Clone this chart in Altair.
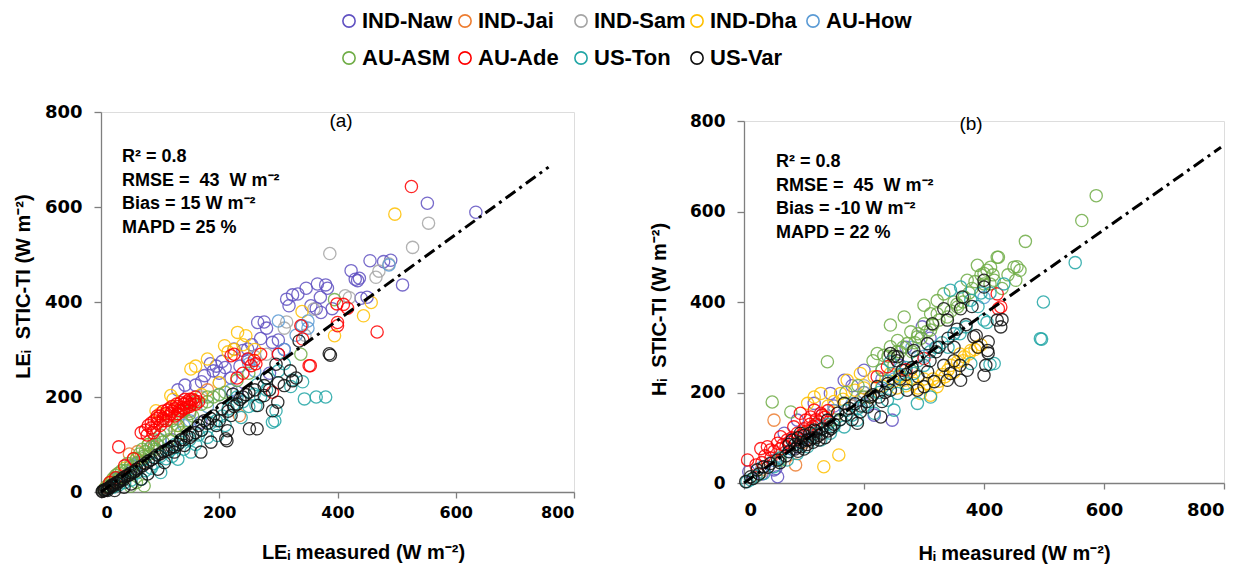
import altair as alt
import pandas as pd

SITES = ["IND-Naw", "IND-Jai", "IND-Sam", "IND-Dha", "AU-How", "AU-ASM", "AU-Ade", "US-Ton", "US-Var"]
COLORS = ["#6152C2", "#ED7D31", "#A5A5A5", "#FFC000", "#5B9BD5", "#70AD47", "#FF0000", "#22A6A6", "#111111"]

# ---------------- Panel (a): LE measured vs LE STIC-TI ----------------
LE_IND_Naw = [(634,589),(552,608),(455,487),(478,485),(490,488),(510,436),(423,466),(430,448),(437,450),(450,410),
              (440,408),(347,429),(383,429),(371,410),(364,386),(391,386),(314,406),(324,415),(318,392),(333,417),
              (366,438),(380,436),(434,445),(355,392),(372,378),(276,358),(265,357),(280,345),(270,323),(290,315),
              (248,301),(225,301),(255,310),(240,298),(300,320),(195,265),(190,255),(200,250),(210,262),(175,245),
              (170,232),(160,225),(220,240),(235,265),(250,280),(142,225),(130,215),(185,270),(205,275),(169,147),
              (230,210),(300,290),(310,300),(285,250),(120,110),(90,95),(60,55),(30,30)]
LE_IND_Jai = [(8,10),(18,22),(28,38),(48,80),(55,70),(70,62),(90,95),(110,130),(130,155),(150,170),(180,215),
              (234,161),(35,25),(22,30),(62,85)]
LE_IND_Sam = [(554,566),(527,515),(387,502),(465,452),(470,465),(413,413),(420,409),(314,358),(310,345),(340,350),
              (345,330),(280,290),(260,285),(200,230),(170,200),(150,170),(120,140),(80,90),(50,60),(25,30),
              (487,480),(360,385)]
LE_IND_Dha = [(497,585),(457,399),(444,371),(395,329),(245,329),(231,336),(240,310),(209,308),(225,300),(215,295),
              (180,280),(152,259),(160,265),(118,203),(122,195),(93,171),(100,165),(60,70),(40,50),(20,25),
              (130,140),(80,100),(200,230),(170,205),(260,300),(340,380)]
LE_AU_How = [(300,360),(330,330),(350,345),(250,270),(200,205),(150,150),(100,110),(60,60),(30,30),(487,478),
             (340,350),(310,300),(260,255),(220,215),(180,180),(140,140),(95,100),(55,55),(25,28),(350,360)]
LE_AU_ASM = [(5,5),(10,12),(15,20),(20,28),(25,35),(30,40),(35,45),(40,30),(45,60),(50,55),(60,70),(65,80),
             (70,90),(75,85),(80,100),(85,95),(90,110),(100,120),(110,130),(120,150),(140,170),(160,190),(180,200),
             (73,13),(60,20),(50,12),(395,405),(338,290),(250,250),(210,210),(130,140),(150,165),(170,185),
             (190,200),(25,15),(35,25),(55,40),(70,70),(95,100),
             (15,12),(22,20),(32,30),(42,45),(52,48),(62,62),(72,75),(82,80),(92,90),(105,105),(115,110),
             (125,130),(135,125),(145,150),(155,160),(200,205),(230,235),(180,190)]
LE_AU_Ade = [(525,643),(467,337),(400,350),(399,396),(354,266),(352,266),(417,387),(410,395),(400,357),(341,322),
             (338,350),(300,290),(254,266),(259,277),(248,280),(262,270),(220,287),(225,290),(290,210),(230,240),
             (240,250),(270,290),(30,95),(15,20),(25,30),(40,55),(55,70),
             (68,125),(75,130),(80,140),(85,135),(90,150),(95,145),(100,160),(105,155),(110,165),(115,160),
             (120,170),(125,175),(130,180),(135,170),(140,185),(145,190),(150,180),(155,195),(160,185),(165,190),
             (110,150),(120,180),(100,140),(130,165),(140,175),(90,130),(115,175),(150,195),(105,170),(125,160),
             (145,178),(135,188),(160,200),(95,155),
             (85,145),(95,160),(105,150),(112,172),(118,165),(128,185),(138,178),(148,188),(158,192),(78,120),
             (88,125),(132,172),(142,195),(152,185)]
LE_US_Ton = [(380,200),(364,200),(344,196),(324,236),(321,222),(341,232),(300,255),(294,150),(290,147),(296,171),
             (262,182),(259,206),(264,226),(237,157),(250,180),(197,119),(210,140),(180,115),(152,84),(160,100),
             (130,69),(140,90),(120,75),(101,41),(90,60),(68,27),(75,45),(60,40),(51,25),(40,20),(30,15),(20,10),
             (10,5),(310,270),(280,240),(230,200),(170,130),(110,70),(85,50),
             (100,75),(115,85),(125,100),(135,105),(150,110),(165,120),(185,145),(195,150),(205,160),(215,175),
             (225,185),(240,190),(270,200),(280,215)]
LE_US_Var = [(388,288),(386,291),(324,234),(296,269),(310,224),(276,224),(276,203),(265,182),(251,133),(211,112),
             (214,129),(220,161),(223,206),(299,189),(290,171),(186,105),(169,84),(141,98),(124,84),(107,62),
             (96,48),(79,38),(68,27),(51,17),(39,10),(23,3),(11,3),(2,1),(5,3),(8,5),(12,8),(15,10),(18,14),
             (22,16),(26,20),(30,22),(35,28),(40,32),(45,35),(50,40),(55,42),(60,48),(65,52),(70,55),(80,65),
             (90,72),(100,80),(110,88),(120,95),(130,100),(150,115),(160,125),(170,130),(180,145),(200,150),
             (190,160),(205,175),(230,185),(240,200),(250,210),(260,215),(280,240),(335,318),(264,133),(213,108),
             (330,240),(3,2),(6,4),(10,6),(14,9),(20,12),(28,18),(33,24),(38,26),(48,36),(58,44),(75,60),(85,68),
             (95,78),(115,90),(140,110),
             (105,85),(125,95),(135,110),(145,118),(155,120),(165,140),(175,150),(185,155),(195,140),(215,170),
             (225,180),(235,195),(245,205),(300,230),(320,255),(285,215)]

# ---------------- Panel (b): H measured vs H STIC-TI ----------------
H_IND_Naw = [(56,14),(50,29),(53,32),(8,25),(297,345),(200,249),(167,227),(144,198),(117,176),(89,139),(67,110),
             (247,139),(217,150),(260,260),(230,230),(180,215),(150,170),(120,130),(100,95),(80,75),(30,20),
             (310,320),(270,300),(195,185),(130,150)]
H_IND_Jai = [(50,139),(86,40),(60,55),(120,110),(150,160),(200,200),(30,30),(100,90),(20,15),(180,170)]
H_IND_Sam = [(180,170),(250,240),(320,300),(120,110),(60,60),(200,215),(90,85),(30,25)]
H_IND_Dha = [(389,301),(378,293),(367,279),(356,268),(345,260),(322,213),(311,194),(294,198),(283,220),(267,227),
             (244,242),(278,249),(158,62),(133,36),(128,198),(161,198),(172,227),(194,242),(217,235),(106,176),
             (117,190),(300,230),(330,240),(255,210),(230,215),(150,180),(185,205),(210,190),(340,250),(360,285),
             (250,225),(260,235),(270,215),(280,230),(290,210),(305,220),(315,230),(325,225),(335,235),(350,245),
             (365,270),(375,285),(385,295),(395,305),(140,170),(165,185),(200,210)]
H_AU_How = [(150,160),(200,200),(250,230),(300,280),(350,330),(100,100),(50,50),(30,35),(400,410),(280,300),
            (230,250),(180,175),(120,125),(75,70)]
H_AU_ASM = [(587,635),(563,580),(469,534),(424,499),(455,478),(422,499),(389,481),(411,477),(450,477),(453,448),
            (372,448),(400,463),(417,448),(333,418),(300,393),(322,374),(311,338),(267,367),(244,349),(278,334),
            (289,323),(222,286),(233,282),(139,268),(244,301),(256,315),(272,308),(300,352),(322,403),(367,411),
            (356,389),(339,367),(311,374),(47,179),(78,157),(100,110),(150,140),(200,190),(250,260),(280,290),
            (230,250),(350,400),(380,430),(430,430),(400,440),(260,290),(290,330),(215,270),(190,215),(170,200),
            (120,130),(60,50),(25,20),
            (240,280),(255,290),(265,300),(285,310),(295,320),(305,335),(315,350),(325,360),(345,380),(355,395),
            (365,400),(375,420),(385,445),(395,460),(405,470),(415,460),(440,460),(460,470),(410,440)]
H_AU_Ade = [(6,51),(28,76),(39,80),(56,88),(72,95),(89,110),(103,139),(117,161),(111,146),(128,154),(61,102),
            (83,124),(94,154),(44,73),(428,389),(422,418),(424,385),(239,257),(222,235),(300,275),(270,250),
            (100,120),(110,130),(120,140),(130,150),(80,100),(65,85),(50,70),(140,160),(20,40),(35,60),
            (70,80),(75,90),(85,95),(95,105),(105,115),(115,125),(125,135),(135,145),(60,75),(45,55),(30,45)]
H_US_Ton = [(552,487),(499,400),(496,318),(494,319),(400,360),(405,355),(417,264),(378,264),(289,176),(311,190),
            (256,198),(239,183),(250,161),(217,154),(189,139),(167,124),(144,110),(128,95),(106,80),(89,65),
            (72,51),(50,36),(33,21),(11,7),(378,404),(433,440),(361,433),(344,426),(244,268),(283,242),(410,262),
            (320,300),(300,260),(350,330),(200,170),(270,220),(225,200),(160,140),(120,110),(90,85),(60,55),
            (20,15),(5,3),
            (130,120),(140,130),(150,125),(170,160),(180,150),(190,165),(210,180),(230,210),(240,225),(260,240),
            (270,255),(290,270),(310,290),(330,310),(340,300),(360,330),(370,345),(390,390),(395,420),(410,420)]
H_US_Var = [(400,448),(400,433),(364,411),(361,385),(333,385),(339,360),(314,352),(306,308),(283,293),(289,279),
            (256,279),(244,286),(264,249),(306,246),(333,260),(344,242),(372,249),(361,227),(339,227),(317,224),
            (300,213),(289,205),(272,205),(403,260),(383,323),(422,360),(428,345),(406,293),(400,238),(244,205),
            (222,213),(228,146),(206,168),(189,132),(194,157),(211,190),(167,176),(156,154),(144,124),(139,139),
            (117,117),(106,95),(89,80),(94,110),(75,69),(56,51),(44,43),(33,36),(22,29),(11,14),(3,3),(80,95),
            (85,85),(90,100),(95,90),(100,105),(105,95),(110,110),(115,100),(120,115),(125,105),(130,120),
            (100,75),(90,70),(430,361),(387,326),(407,312),(407,287),(250,280),(255,270),(350,300),(320,290),
            (230,180),(180,140),(150,130),(70,60),(60,45),(40,35),(25,20),(15,10),
            (75,85),(85,75),(95,80),(105,85),(110,95),(115,90),(120,100),(125,95),(130,110),(135,100),(140,115),
            (145,120),(160,140),(170,150),(175,165),(185,175),(195,170),(205,180),(215,195),(225,190),(235,200),
            (240,220),(260,230),(270,240),(280,255),(290,235),(310,270),(325,300),(340,320),(355,340),(370,350),
            (380,390),(350,270),(360,260),(390,300)]

# dash-dot reference lines (endpoints)
LINE_A_X = [0, 757]
LINE_A_Y = [0, 684]
LINE_B_X = [0, 795]
LINE_B_Y = [0, 742]

NB = "\u00a0"
STATS_A = ["R\u00b2 = 0.8", "RMSE =" + NB * 2 + "43" + NB * 2 + "W m\u207b\u00b2", "Bias = 15 W m\u207b\u00b2", "MAPD = 25 %"]
STATS_B = ["R\u00b2 = 0.8", "RMSE =" + NB * 2 + "45" + NB * 2 + "W m\u207b\u00b2", "Bias = -10 W m\u207b\u00b2", "MAPD = 22 %"]

TICKS = [0, 200, 400, 600, 800]

LE_SETS = [LE_IND_Naw, LE_IND_Jai, LE_IND_Sam, LE_IND_Dha, LE_AU_How, LE_AU_ASM, LE_AU_Ade, LE_US_Ton, LE_US_Var]
H_SETS = [H_IND_Naw, H_IND_Jai, H_IND_Sam, H_IND_Dha, H_AU_How, H_AU_ASM, H_AU_Ade, H_US_Ton, H_US_Var]


def to_frame(sets):
    rows = []
    for site, pts in zip(SITES, sets):
        for x, y in pts:
            rows.append({"site": site, "x": x, "y": y})
    return pd.DataFrame(rows)


df_a = to_frame(LE_SETS)
df_b = to_frame(H_SETS)

FONT = "Liberation Sans"
TICKFONT = "DejaVu Sans"
AXC = "#7F7F7F"

legend = alt.Legend(
    title=None, orient="none", legendX=237, legendY=-102, columns=5, direction="horizontal",
    symbolType="circle", symbolSize=150, symbolStrokeWidth=1.6, symbolOpacity=1,
    labelFont=FONT, labelFontWeight="bold", labelFontSize=22, labelColor="black",
    rowPadding=15, columnPadding=0, gridAlign="all", labelOffset=2,
)


def color_enc(show_legend):
    return alt.Color("site:N", scale=alt.Scale(domain=SITES, range=COLORS),
                     legend=legend if show_legend else None, sort=SITES)


def panel(df, lx, ly, xtitle, ytitle, stats, tag, w, h, cfg, show_legend):
    xax = alt.Axis(values=TICKS, title=xtitle, grid=False, domainColor=AXC, tickColor=AXC,
                   domainWidth=1.3, tickWidth=1.3, tickSize=6, labelPadding=cfg["xlabpad"],
                   labelFont=TICKFONT, labelFontWeight="bold", labelFontSize=cfg["xlab"], labelColor="black",
                   titleFont=FONT, titleFontWeight="bold", titleFontSize=20, titleColor="black",
                   titleX=cfg["xtx"], titleY=cfg["xty"], titleAlign="center", titleBaseline="middle")
    yax = alt.Axis(values=TICKS, title=ytitle, grid=False, domainColor=AXC, tickColor=AXC,
                   domainWidth=1.3, tickWidth=1.3, tickSize=7, labelPadding=12,
                   labelFont=TICKFONT, labelFontWeight="bold", labelFontSize=cfg["ylab"], labelColor="black",
                   titleFont=FONT, titleFontWeight="bold", titleFontSize=20, titleColor="black",
                   titleX=cfg["ytx"], titleY=cfg["yty"], titleAlign="center", titleBaseline="middle",
                   titleAngle=270)
    xs = alt.Scale(domain=[0, 800], nice=False)
    ys = alt.Scale(domain=[0, 800], nice=False)
    pts = alt.Chart(df).mark_point(filled=False, size=150, strokeWidth=1.3, opacity=0.85).encode(
        x=alt.X("x:Q", scale=xs, axis=xax),
        y=alt.Y("y:Q", scale=ys, axis=yax),
        color=color_enc(show_legend),
    )
    line = alt.Chart(pd.DataFrame({"x": lx, "y": ly})).mark_line(
        color="black", strokeWidth=3, strokeDash=[12, 5, 3, 5]).encode(
        x=alt.X("x:Q", scale=xs), y=alt.Y("y:Q", scale=ys))
    txt = alt.Chart(pd.DataFrame({"t": ["\n".join(stats)]})).mark_text(
        align="left", baseline="top", font=FONT, fontWeight="bold", fontSize=18, color="black",
        lineBreak="\n", lineHeight=23.5).encode(
        text="t:N", x=alt.value(cfg["sx"]), y=alt.value(cfg["sy"]))
    lab = alt.Chart(pd.DataFrame({"t": [tag]})).mark_text(
        align="center", baseline="middle", font=FONT, fontSize=19, color="black").encode(
        text="t:N", x=alt.value(cfg["tx"]), y=alt.value(cfg["ty"]))
    return alt.layer(pts, line, txt, lab).properties(width=w, height=h)


cfg_a = dict(xlab=16, ylab=18, xlabpad=6, xtx=262, xty=60, ytx=-78, yty=174, sx=21, sy=36, tx=240, ty=9)
cfg_b = dict(xlab=18, ylab=17, xlabpad=12, xtx=270, xty=70, ytx=-85, yty=188, sx=32, sy=32, tx=227, ty=3)

pa = panel(df_a, LINE_A_X, LINE_A_Y, "LE\u1d62 measured (W m\u207b\u00b2)",
           "LE\u1d62" + NB * 2 + "STIC-TI (W m\u207b\u00b2)", STATS_A, "(a)", 473, 380, cfg_a, True)
pb = panel(df_b, LINE_B_X, LINE_B_Y, "H\u1d62 measured (W m\u207b\u00b2)",
           "H\u1d62" + NB * 2 + "STIC-TI (W m\u207b\u00b2)", STATS_B, "(b)", 480, 362, cfg_b, True)

chart = alt.hconcat(pa, pb, spacing=170, bounds="flush", center=True).properties(
    padding={"left": 4, "top": 2, "right": 5, "bottom": 5}
).configure_view(stroke=None).configure(background="white")

chart.save("out.html", embed_options={"renderer": "svg", "actions": False})
